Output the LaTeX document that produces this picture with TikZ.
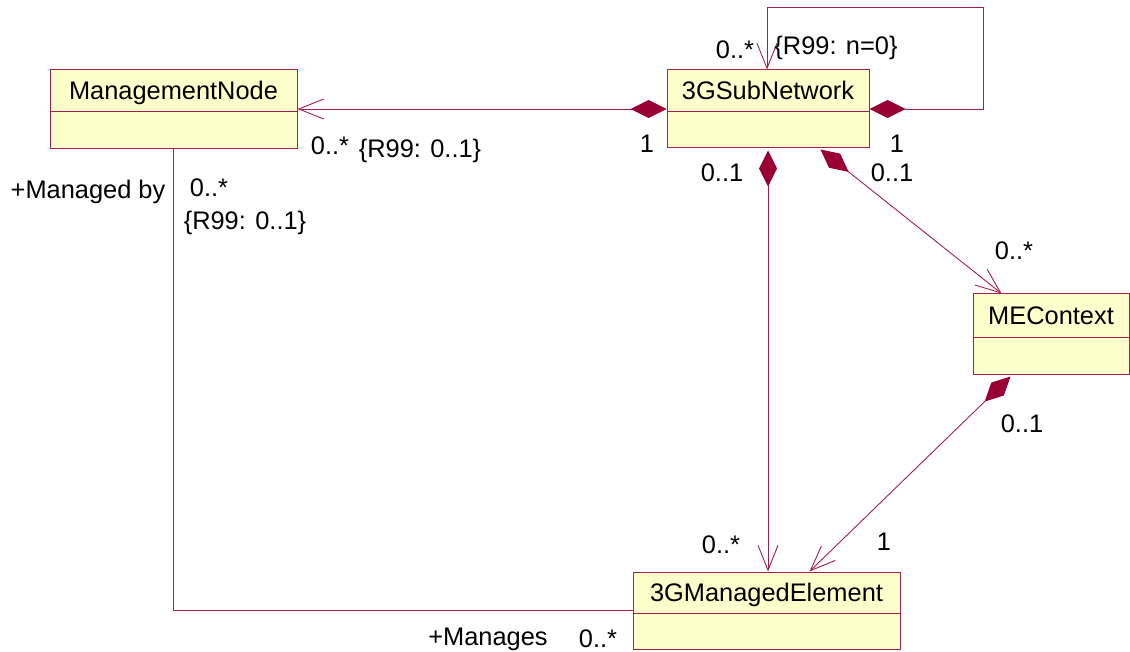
\documentclass[tikz,border=0pt]{standalone}
\usepackage{fontspec}
\setmainfont{Liberation Sans}
\usetikzlibrary{arrows.meta,calc}
\definecolor{umlline}{RGB}{165,30,80}
\definecolor{umldia}{RGB}{153,0,51}
\definecolor{umlfill}{RGB}{255,255,204}
\begin{document}
\begin{tikzpicture}[x=1pt,y=-1pt,
  cls/.style={draw=umlline,fill=umlfill,line width=1pt,inner sep=0pt,rectangle},
  lbl/.style={inner sep=0pt,font=\fontsize{25.4}{30}\selectfont,text height=18.3pt,text depth=0pt},
  divider/.style={draw=umlline,line width=1pt},
  assoc/.style={draw=umlline,line width=0.9pt},
  comp/.style={assoc,{Diamond[length=36pt,width=18pt,color=umldia,fill=umldia]}-{Straight Barb[length=25pt,width=20pt]}}
]
\useasboundingbox (0,0) rectangle (1130,652);

% classes
\node[cls,minimum width=247pt,minimum height=79pt] (mn) at (173.5,109.5) {};
\node[cls,minimum width=202pt,minimum height=78pt] (sn) at (768,109) {};
\node[cls,minimum width=156pt,minimum height=80pt] (mec) at (1051,334) {};
\node[cls,minimum width=267pt,minimum height=77pt] (me) at (766.5,610.5) {};

\draw[divider] ([yshift=-42pt]mn.north west) -- ([yshift=-42pt]mn.north east);
\draw[divider] ([yshift=-42pt]sn.north west) -- ([yshift=-42pt]sn.north east);
\draw[divider] ([yshift=-44pt]mec.north west) -- ([yshift=-44pt]mec.north east);
\draw[divider] ([yshift=-42pt]me.north west) -- ([yshift=-42pt]me.north east);

\node[lbl] (mnname) at ([yshift=-21pt]mn.north) {ManagementNode};
\node[lbl] (snname) at ([yshift=-21pt]sn.north) {3GSubNetwork};
\node[lbl] (mecname) at ([yshift=-22pt]mec.north) {MEContext};
\node[lbl] (mename) at ([yshift=-21pt]me.north) {3GManagedElement};

% connectors
\draw[comp] (sn.west) -- (mn.east |- sn.west);
\coordinate (loopc) at (983,7);
\draw[comp] (sn.east) -| (loopc) -| ([xshift=-1pt]sn.north);
\draw[comp] ([yshift=-2pt]sn.south) -- (sn.south |- me.north);
\draw[comp] ([xshift=-49pt,yshift=-1pt]sn.south east) -- ([xshift=29pt]mec.north west);
\draw[comp] ([xshift=38pt,yshift=-2pt]mec.south west) -- ([xshift=-91pt]me.north east);
\draw[assoc] (mn.south) |- (me.west);

% labels
\node[lbl] (l1) at (330,145) {0..*};
\node[lbl] (l2) at (420,148) {\{R99: 0..1\}};
\node[lbl] (l3) at (647,143) {1};
\node[lbl] (l4) at (735,49) {0..*};
\node[lbl] (l5) at (836,45) {\{R99: n=0\}};
\node[lbl] (l6) at (897,143) {1};
\node[lbl] (l7) at (722,172) {0..1};
\node[lbl] (l8) at (892,172) {0..1};
\node[lbl] (l9) at (88,189) {+Managed by};
\node[lbl] (l10) at (209,187) {0..*};
\node[lbl] (l11) at (245,220) {\{R99: 0..1\}};
\node[lbl] (l12) at (1014,250) {0..*};
\node[lbl] (l13) at (1022,423) {0..1};
\node[lbl] (l14) at (721,544) {0..*};
\node[lbl] (l15) at (884,541) {1};
\node[lbl] (l16) at (488,636) {+Manages};
\node[lbl] (l17) at (598,638) {0..*};
\end{tikzpicture}
\end{document}
